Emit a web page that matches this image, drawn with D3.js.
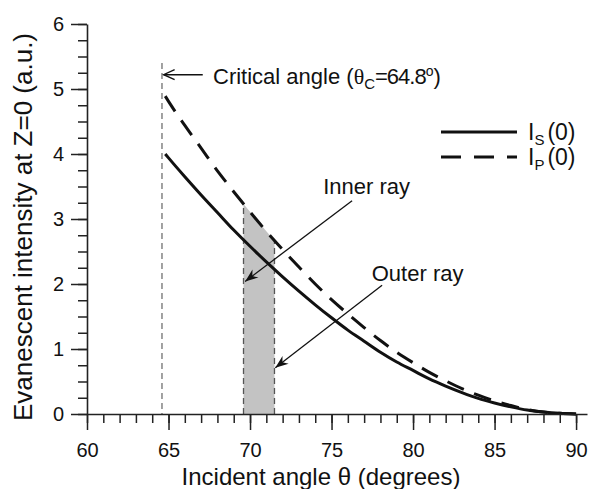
<!DOCTYPE html>
<html>
<head>
<meta charset="utf-8">
<script src="https://cdn.jsdelivr.net/npm/d3@7"></script>
<style>
  body { margin: 0; background: #fff; }
  text { font-family: "Liberation Sans", Arial, Helvetica, sans-serif; fill: #111; }
</style>
</head>
<body>
<div id="chart"></div>
<script>
// incident angle (degrees) and evanescent intensities
const angles = [64.8, 65, 66, 67, 68, 69, 70, 71, 72, 73, 74, 75, 76, 77, 78, 79, 80,
                81, 82, 83, 84, 85, 86, 87, 88, 89, 90];
const intensityS = [4.00, 3.94, 3.65, 3.37, 3.10, 2.83, 2.58, 2.34, 2.11, 1.89, 1.68, 1.48, 1.29,
                    1.12, 0.95, 0.80, 0.67, 0.54, 0.43, 0.33, 0.24, 0.17, 0.11, 0.06, 0.03, 0.01, 0];
const intensityP = [4.89, 4.81, 4.44, 4.09, 3.74, 3.42, 3.11, 2.81, 2.53, 2.26, 2.00, 1.76, 1.54,
                    1.33, 1.13, 0.95, 0.79, 0.64, 0.51, 0.39, 0.29, 0.20, 0.13, 0.07, 0.03, 0.01, 0];

const xTicks = [60, 65, 70, 75, 80, 85, 90];
const yTicks = [0, 1, 2, 3, 4, 5, 6];

// shaded band between inner and outer ray, topped by I_P
const shadeAngles = [69.6, 70, 71, 71.5];
const shadeTop = [3.23, 3.11, 2.81, 2.67];

const criticalAngle = 64.6;   // where the marker line sits in the figure
const criticalTop = 5.4;

const margin = {top: 24, right: 3, bottom: 75, left: 87};
const width = 590 - margin.left - margin.right;
const height = 489 - margin.top - margin.bottom;

const svg = d3.select("#chart")
  .append("svg")
    .attr("width", 590)
    .attr("height", 489);

const defs = svg.append("defs");
defs.append("marker")
    .attr("id", "openArrow")
    .attr("viewBox", "-12 -6 14 12")
    .attr("refX", 0).attr("refY", 0)
    .attr("markerWidth", 14).attr("markerHeight", 12)
    .attr("markerUnits", "userSpaceOnUse")
    .attr("orient", "auto")
  .append("path")
    .attr("d", "M-11,-5 L0,0 L-11,5")
    .attr("fill", "none")
    .attr("stroke", "#111")
    .attr("stroke-width", 1.4);
defs.append("marker")
    .attr("id", "barbArrow")
    .attr("viewBox", "-14 -6 16 12")
    .attr("refX", 0).attr("refY", 0)
    .attr("markerWidth", 16).attr("markerHeight", 12)
    .attr("markerUnits", "userSpaceOnUse")
    .attr("orient", "auto")
  .append("path")
    .attr("d", "M-13,-5 L0,0 L-13,5 L-9,0 Z")
    .attr("fill", "#111");

const g = svg.append("g")
    .attr("transform", `translate(${margin.left},${margin.top})`);

const x = d3.scaleLinear().domain([60, 90.67]).range([0, width]);
const y = d3.scaleLinear().domain([0, 6]).range([height, 0]);

// shaded band
const shadeData = shadeAngles.map((a, i) => ({a: a, v: shadeTop[i]}));
g.append("path")
  .datum(shadeData)
    .attr("fill", "#c3c3c3")
    .attr("d", d3.area().x(d => x(d.a)).y0(y(0)).y1(d => y(d.v)));
g.selectAll(".shadeEdge")
  .data([shadeData[0], shadeData[shadeData.length - 1]])
  .join("line")
    .attr("class", "shadeEdge")
    .attr("x1", d => x(d.a)).attr("x2", d => x(d.a))
    .attr("y1", y(0)).attr("y2", d => y(d.v))
    .attr("stroke", "#555")
    .attr("stroke-width", 1.3)
    .attr("stroke-dasharray", "6,4");

// critical angle marker
g.append("line")
    .attr("x1", x(criticalAngle)).attr("x2", x(criticalAngle))
    .attr("y1", y(criticalTop)).attr("y2", y(0))
    .attr("stroke", "#444")
    .attr("stroke-width", 1)
    .attr("stroke-dasharray", "6,4");

// curves
const line = d3.line()
    .x(d => x(d[0]))
    .y(d => y(d[1]))
    .curve(d3.curveMonotoneX);

g.append("path")
  .datum(angles.map((a, i) => [a, intensityS[i]]))
    .attr("fill", "none")
    .attr("stroke", "#111")
    .attr("stroke-width", 3)
    .attr("d", line);

g.append("path")
  .datum(angles.map((a, i) => [a, intensityP[i]]))
    .attr("fill", "none")
    .attr("stroke", "#111")
    .attr("stroke-width", 3)
    .attr("stroke-dasharray", "18,11")
    .attr("d", line);

// axes: minor ticks first, then labelled major ticks
const xMinor = d3.range(60, 91, 1);
const yMinor = d3.range(0, 6.01, 0.25);

g.append("g")
    .attr("transform", `translate(0,${height})`)
    .call(d3.axisBottom(x).tickValues(xMinor).tickSize(9).tickFormat(""))
    .call(a => a.select(".domain").remove());
g.append("g")
    .call(d3.axisLeft(y).tickValues(yMinor).tickSize(9).tickFormat(""))
    .call(a => a.select(".domain").remove());

const xAxis = g.append("g")
    .attr("transform", `translate(0,${height})`)
    .call(d3.axisBottom(x).tickValues(xTicks).tickFormat(d3.format("d"))
      .tickSize(16).tickSizeOuter(0).tickPadding(13));
const yAxis = g.append("g")
    .call(d3.axisLeft(y).tickValues(yTicks).tickFormat(d3.format("d"))
      .tickSize(16).tickSizeOuter(0).tickPadding(7));

g.selectAll(".tick line").attr("stroke", "#222").attr("stroke-width", 1.5);
g.selectAll(".domain").attr("stroke", "#222").attr("stroke-width", 1.6);
g.selectAll(".tick text")
    .style("font-family", '"Liberation Sans", Arial, sans-serif')
    .style("font-size", "20px")
    .attr("fill", "#111");

// axis titles
svg.append("text")
    .attr("x", 321)
    .attr("y", 485)
    .attr("text-anchor", "middle")
    .style("font-size", "24px")
    .text("Incident angle θ (degrees)");

svg.append("text")
    .attr("transform", "translate(32,227) rotate(-90)")
    .attr("text-anchor", "middle")
    .style("font-size", "26px")
    .text("Evanescent intensity at Z=0 (a.u.)");

// annotations (positions in data units)
g.append("line")
    .attr("x1", x(67.1)).attr("y1", y(5.22))
    .attr("x2", x(64.7)).attr("y2", y(5.22))
    .attr("stroke", "#111").attr("stroke-width", 1.4)
    .attr("marker-end", "url(#openArrow)");

const crit = g.append("text")
    .attr("x", x(67.73))
    .attr("y", y(5.07))
    .style("font-size", "22px");
crit.append("tspan").text("Critical angle (");
crit.append("tspan").style("font-family", '"Liberation Serif", "Times New Roman", serif').text("θ");
crit.append("tspan").attr("dy", 5).style("font-size", "15px").text("C");
crit.append("tspan").attr("dy", -5).style("letter-spacing", "-1px").text("=64.8");
crit.append("tspan").attr("dy", -8).style("font-size", "14px").text("o");
crit.append("tspan").attr("dy", 8).text(")");

g.append("line")
    .attr("x1", x(76.26)).attr("y1", y(3.28))
    .attr("x2", x(69.7)).attr("y2", y(2.04))
    .attr("stroke", "#111").attr("stroke-width", 1.3)
    .attr("marker-end", "url(#barbArrow)");
g.append("text")
    .attr("x", x(77.15)).attr("y", y(3.39))
    .attr("text-anchor", "middle")
    .style("font-size", "22px")
    .text("Inner ray");

g.append("line")
    .attr("x1", x(78.1)).attr("y1", y(1.98))
    .attr("x2", x(71.55)).attr("y2", y(0.71))
    .attr("stroke", "#111").attr("stroke-width", 1.3)
    .attr("marker-end", "url(#barbArrow)");
g.append("text")
    .attr("x", x(80.28)).attr("y", y(2.04))
    .attr("text-anchor", "middle")
    .style("font-size", "22px")
    .text("Outer ray");

// legend
const legendItems = [
  {sub: "S", dash: null},
  {sub: "P", dash: "20,13"}
];
const legend = svg.append("g")
    .attr("transform", "translate(441,132)");
const li = legend.selectAll("g")
  .data(legendItems)
  .join("g")
    .attr("transform", (d, i) => `translate(0,${i * 25})`);
li.append("line")
    .attr("x1", 0).attr("x2", 76)
    .attr("y1", 0).attr("y2", 0)
    .attr("stroke", "#111")
    .attr("stroke-width", 3)
    .attr("stroke-dasharray", d => d.dash);
const lt = li.append("text")
    .attr("x", 87)
    .attr("y", 8)
    .style("font-size", "23px");
lt.append("tspan").text("I");
lt.append("tspan").attr("dy", 5).style("font-size", "15px").text(d => d.sub);
lt.append("tspan").attr("dy", -5).attr("dx", 3).text("(0)");
</script>
</body>
</html>
